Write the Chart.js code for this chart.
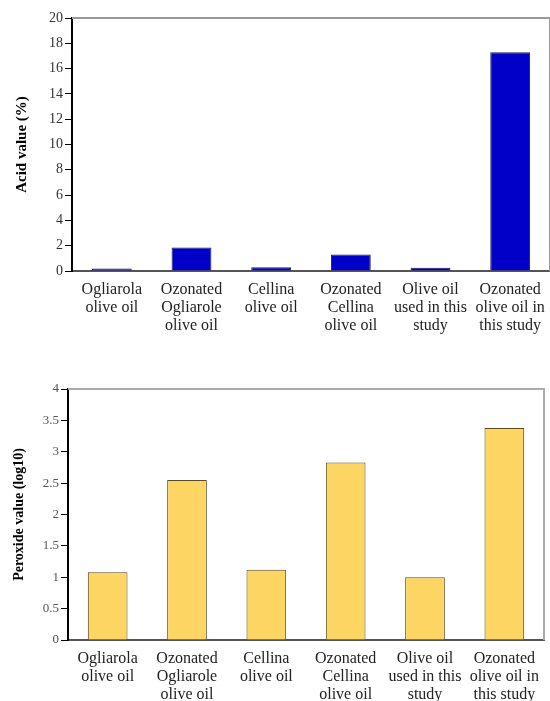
<!DOCTYPE html>
<html>
<head>
<meta charset="utf-8">
<script src="https://cdn.jsdelivr.net/npm/chart.js@4"></script>
<style>
  body { margin: 0; background: #fff; width: 550px; height: 701px; position: relative; overflow: hidden; }
  canvas { position: absolute; left: 0; }
  #acid { top: 0; }
  #peroxide { top: 350px; }
</style>
</head>
<body>
<canvas id="acid" width="550" height="340"></canvas>
<canvas id="peroxide" width="550" height="351"></canvas>
<script>
const categories = [
  ['Ogliarola', 'olive oil'],
  ['Ozonated', 'Ogliarole', 'olive oil'],
  ['Cellina', 'olive oil'],
  ['Ozonated', 'Cellina', 'olive oil'],
  ['Olive oil', 'used in this', 'study'],
  ['Ozonated', 'olive oil in', 'this study']
];
const acidValues = [0.2, 1.85, 0.3, 1.3, 0.25, 17.3];
const peroxideValues = [1.08, 2.55, 1.12, 2.83, 1.0, 3.38];

const serif = 'Liberation Serif';

// grey frame on the top and right side of the plot
const framePlugin = {
  id: 'frame',
  afterDraw(chart, args, opts) {
    const { ctx, chartArea: a } = chart;
    ctx.save();
    ctx.strokeStyle = opts.color || '#999';
    ctx.lineWidth = 2;
    ctx.beginPath();
    ctx.moveTo(a.left, a.top);
    ctx.lineTo(a.right, a.top);
    ctx.lineTo(a.right, a.bottom);
    ctx.stroke();
    ctx.restore();
  }
};

function makeChart(id, values, cfg) {
  return new Chart(document.getElementById(id), {
    type: 'bar',
    data: {
      labels: categories,
      datasets: [{
        data: values,
        backgroundColor: cfg.fill,
        borderColor: cfg.border,
        borderWidth: 1,
        categoryPercentage: 1,
        barPercentage: 0.5
      }]
    },
    plugins: [framePlugin],
    options: {
      responsive: false,
      animation: false,
      layout: { padding: cfg.padding },
      plugins: {
        legend: { display: false },
        tooltip: { enabled: false },
        frame: { color: cfg.frame }
      },
      scales: {
        x: {
          grid: { display: false },
          border: { color: '#555', width: 2 },
          ticks: {
            color: '#222',
            padding: 2,
            maxRotation: 0,
            autoSkip: false,
            font: { family: serif, size: 16, lineHeight: 1.125 }
          },
          afterFit: s => { s.height = cfg.xHeight; }
        },
        y: {
          min: cfg.min,
          max: cfg.max,
          ticks: {
            stepSize: cfg.step,
            color: cfg.tickColor,
            padding: 2,
            font: { family: serif, size: cfg.tickSize },
            callback: v => String(+v.toFixed(1))
          },
          grid: { drawOnChartArea: false, tickLength: 7, color: '#000' },
          border: { color: '#000', width: 2 },
          title: {
            display: true,
            text: cfg.title,
            color: '#000',
            font: { family: serif, size: cfg.titleSize, weight: 'bold' }
          },
          afterFit: s => { s.width = cfg.yWidth; }
        }
      }
    }
  });
}

makeChart('acid', acidValues, {
  fill: '#0000c8',
  border: '#1a1a60',
  frame: '#999',
  padding: { top: 18, left: 9, right: 0, bottom: 0 },
  xHeight: 69,
  yWidth: 63,
  min: 0, max: 20, step: 2,
  tickColor: '#333',
  tickSize: 14,
  title: 'Acid value (%)',
  titleSize: 15
});

makeChart('peroxide', peroxideValues, {
  fill: '#fdd563',
  border: '#5c4a20',
  frame: '#aaa',
  padding: { top: 39, left: 7, right: 6, bottom: 0 },
  xHeight: 61,
  yWidth: 61,
  min: 0, max: 4, step: 0.5,
  tickColor: '#555',
  tickSize: 13,
  title: 'Peroxide value (log10)',
  titleSize: 14
});
</script>
</body>
</html>
